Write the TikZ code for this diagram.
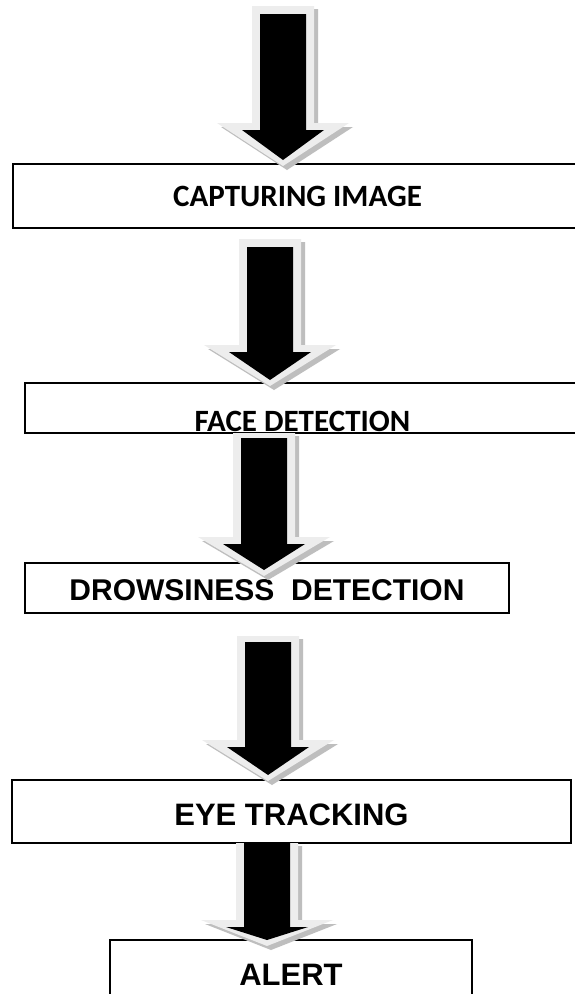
\documentclass[tikz,border=0pt]{standalone}
\usepackage{fontspec}
\usepackage{tikz}
\usetikzlibrary{calc}
\newfontfamily\calibrifont{Carlito}
\newfontfamily\arialfont{Liberation Sans}
\definecolor{glowgray}{HTML}{EDEDED}
\definecolor{shadegray}{HTML}{BEBEBE}
\tikzset{
  stepbox/.style={draw=black,line width=1.600000pt,fill=white,rectangle,inner sep=0pt,text depth=0pt},
  calibrilabel/.style={font=\calibrifont\bfseries\fontsize{31}{31}\selectfont},
  ariallabel/.style={font=\arialfont\bfseries\fontsize{31}{31}\selectfont},
}
% #1 top of shaft, #2 tip, #3 head length, #4 glow above top
\newcommand{\flowarrow}[4]{%
\fill[shadegray] ($(#1)+(-27.000000,-#4+3)$) -- ($(#2)+(-27.000000,-#3-3)$) -- ($(#2)+(-62.000000,-#3-3)$) -- ($(#2)+(4.000000,10.000000)$) -- ($(#2)+(70.000000,-#3-3)$) -- ($(#2)+(35.000000,-#3-3)$) -- ($(#1)+(35.000000,-#4+3)$) -- cycle;
\fill[glowgray] ($(#1)+(-31.000000,-#4)$) -- ($(#2)+(-31.000000,-#3-7)$) -- ($(#2)+(-66.000000,-#3-7)$) -- ($(#2)+(0.000000,6.000000)$) -- ($(#2)+(66.000000,-#3-7)$) -- ($(#2)+(31.000000,-#3-7)$) -- ($(#1)+(31.000000,-#4)$) -- cycle;
\fill[black] ($(#1)+(-23.000000,0.000000)$) -- ($(#2)+(-23.000000,-#3)$) -- ($(#2)+(-41.000000,-#3)$) -- (#2) -- ($(#2)+(41.000000,-#3)$) -- ($(#2)+(23.000000,-#3)$) -- ($(#1)+(23.000000,0.000000)$) -- cycle;
}
\begin{document}
\begin{tikzpicture}[scale=1.000000,x=1pt,y=-1pt]
\fill[color=white] (0.000000, 0.000000) rectangle (575.000000, 994.000000);
\clip (0.000000, 0.000000) rectangle (575.000000, 994.000000);
% Drawing boxes
% Box 1: CAPTURING IMAGE
\node[stepbox,calibrilabel,minimum width=569.000000pt,minimum height=64.000000pt,text height=20pt] (capture) at (297.500000, 196.000000) {CAPTURING IMAGE};
% Box 2: FACE DETECTION
\node[stepbox,calibrilabel,minimum width=555.000000pt,minimum height=50.000000pt,text height=46pt] (face) at (302.500000, 408.000000) {FACE DETECTION};
% Box 3: DROWSINESS DETECTION
\node[stepbox,ariallabel,font=\arialfont\bfseries\fontsize{30}{30}\selectfont,minimum width=484.000000pt,minimum height=50.000000pt,text height=24pt] (drowsy) at (267.000000, 588.000000) {DROWSINESS~~DETECTION};
% Box 4: EYE TRACKING
\node[stepbox,ariallabel,minimum width=559.000000pt,minimum height=63.000000pt,text height=27pt] (eye) at (291.500000, 811.500000) {EYE TRACKING};
% Box 5: ALERT
\node[stepbox,ariallabel,minimum width=362.000000pt,minimum height=70.000000pt,text height=20pt] (alert) at (291.000000, 975.000000) {ALERT};
% Done with boxes; drawing arrows
\coordinate (a1top) at (283.000000, 14.000000);
\coordinate (a1tip) at (283.000000, 160.000000);
\coordinate (a2top) at (270.000000, 247.000000);
\coordinate (a2tip) at (270.000000, 380.000000);
\coordinate (a3top) at (264.000000, 438.000000);
\coordinate (a3tip) at (264.000000, 570.000000);
\coordinate (a4top) at (268.000000, 642.000000);
\coordinate (a4tip) at (268.000000, 775.000000);
\coordinate (a5top) at (267.000000, 843.000000);
\coordinate (a5tip) at (267.000000, 940.000000);
% Arrow 1: start -> capture
\flowarrow{a1top}{a1tip}{30}{8}
% Arrow 2: capture -> face
\flowarrow{a2top}{a2tip}{28}{8}
% Arrow 3: face -> drowsy
\flowarrow{a3top}{a3tip}{26}{5}
% Arrow 4: drowsy -> eye
\flowarrow{a4top}{a4tip}{28}{6}
% Arrow 5: eye -> alert
\flowarrow{a5top}{a5tip}{13}{0}
% Done with arrows
\end{tikzpicture}
\end{document}
